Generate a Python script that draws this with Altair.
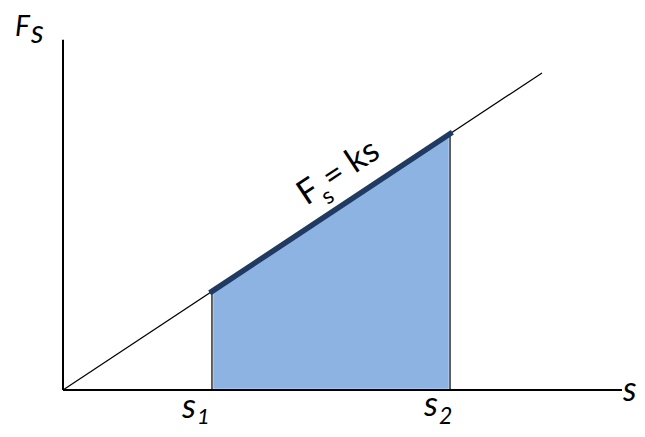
import math
import altair as alt
import pandas as pd

# diagram values (units: s along horizontal, F along vertical)
k = 0.662
s1 = 3.11
s2 = 8.08
s_line_end = 10.0
x_axis_end = 11.67
y_axis_end = 7.31

PX = 47.9  # pixels per unit (same on both axes)
W, H = 629, 421
x_min = -55 / PX
y_max = 382 / PX
xscale = alt.Scale(domain=[x_min, x_min + W / PX], nice=False, zero=False)
yscale = alt.Scale(domain=[y_max - H / PX, y_max], nice=False, zero=False)

def X(f):
    return alt.X(f, type="quantitative", scale=xscale, axis=None)

def Y(f):
    return alt.Y(f, type="quantitative", scale=yscale, axis=None)

line_df = pd.DataFrame({"s": [0.0, s_line_end], "F": [0.0, k * s_line_end]})
seg_df = pd.DataFrame({"s": [s1, s2], "F": [k * s1, k * s2], "z": [0.0, 0.0]})
axes_df = pd.DataFrame({"x": [0.0, 0.0], "y": [0.0, 0.0],
                        "x2": [x_axis_end, 0.0], "y2": [0.0, y_axis_end]})

font = "Lato"

area = alt.Chart(seg_df).mark_area(color="#8DB3E2", stroke="white", strokeWidth=2.5).encode(
    x=X("s"), y=Y("F"), y2="z:Q")
thin = alt.Chart(line_df).mark_line(color="black", strokeWidth=1.2).encode(x=X("s"), y=Y("F"))
verts = alt.Chart(seg_df).mark_rule(color="#3a3a3a", strokeWidth=1.6).encode(
    x=X("s"), y=Y("F"), y2="z:Q")
thick = alt.Chart(seg_df).mark_line(color="#1F3B63", strokeWidth=5.5, strokeCap="square").encode(
    x=X("s"), y=Y("F"))
axes = alt.Chart(axes_df).mark_rule(color="black", strokeWidth=2).encode(
    x=X("x"), y=Y("y"), x2="x2:Q", y2="y2:Q")

def P(px, py):
    return ((px - 63) / PX, (390 - py) / PX)

labels = [
    ("F", P(15, 36), 28),
    ("s", P(31, 43), 32),
    ("s", P(182, 418), 35),
    ("1", P(197, 424), 22),
    ("s", P(424, 416), 35),
    ("2", P(439, 424), 23),
    ("s", P(623, 401), 34),
]
lab_df = pd.DataFrame({"t": [l[0] for l in labels], "x": [l[1][0] for l in labels],
                       "y": [l[1][1] for l in labels], "size": [l[2] for l in labels]})
lab = alt.Chart(lab_df).mark_text(font=font, fontStyle="italic", align="left",
                                  baseline="alphabetic", color="black").encode(
    x=X("x"), y=Y("y"), text="t:N",
    size=alt.Size("size:Q", scale=None, legend=None))

ang = 360 - math.degrees(math.atan(k))
s_a = 5.3
eq_parts = pd.DataFrame({"x": [s_a] * 3, "y": [k * s_a] * 3})
eq_F = alt.Chart(eq_parts.iloc[[0]]).mark_text(text="F", font=font, fontSize=34, angle=ang,
                                               align="left", baseline="alphabetic", dx=0, dy=-19).encode(x=X("x"), y=Y("y"))
eq_s = alt.Chart(eq_parts.iloc[[1]]).mark_text(text="s", font=font, fontSize=23, angle=ang,
                                               align="left", baseline="alphabetic", dx=18, dy=-8).encode(x=X("x"), y=Y("y"))
eq_r = alt.Chart(eq_parts.iloc[[2]]).mark_text(text="= ks", font=font, fontSize=34, angle=ang,
                                               align="left", baseline="alphabetic", dx=30, dy=-19).encode(x=X("x"), y=Y("y"))

chart = alt.layer(area, thin, verts, thick, axes, lab, eq_F, eq_s, eq_r).properties(
    width=W, height=H, padding=0, autosize=alt.AutoSizeParams(type="none")
).configure_view(stroke=None)

chart.save("out.html", embed_options={"renderer": "svg", "actions": False})
